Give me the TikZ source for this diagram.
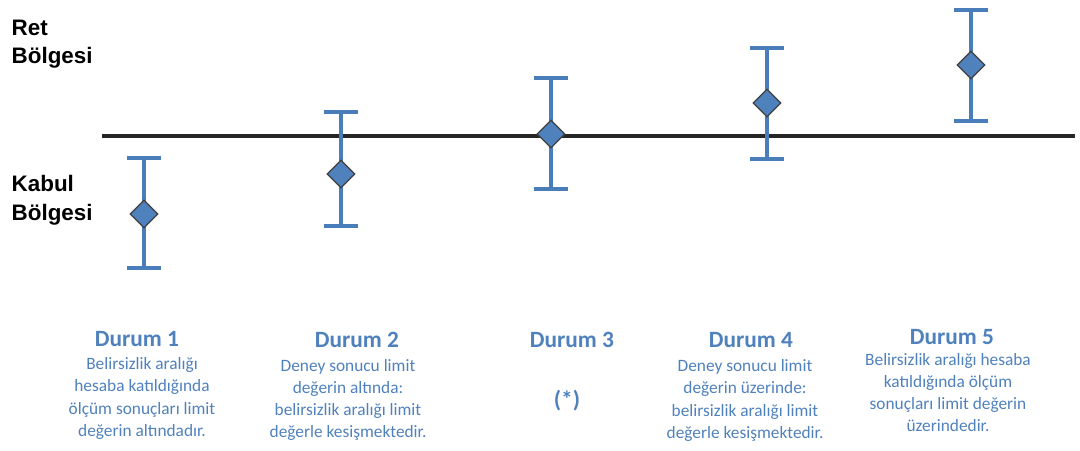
\documentclass[tikz,border=0pt]{standalone}
\usepackage{fontspec}
\setmainfont{Carlito}
\newfontfamily\arialf{Liberation Sans}
\usetikzlibrary{shapes.geometric}
\definecolor{barblue}{RGB}{74,126,187}
\definecolor{dmdblue}{RGB}{79,129,189}
\definecolor{txtblue}{RGB}{79,129,189}
\definecolor{limline}{RGB}{38,38,38}
\tikzset{
  limit/.style={line width=3pt, draw=limline},
  ebar/.style={line width=2.6pt, draw=barblue},
  dmd/.style={diamond, aspect=1, inner sep=0pt, minimum width=21pt, minimum height=21pt,
              fill=dmdblue, draw=black!75, line width=0.9pt},
  region/.style={align=left, anchor=west, font=\arialf\bfseries\fontsize{16.8}{21.5}\selectfont, text=black},
  head/.style={font=\bfseries\fontsize{17.5}{18}\selectfont, text=txtblue, inner sep=0pt},
  body/.style={align=center, font=\fontsize{13}{16.7}\selectfont, text=txtblue, inner sep=0pt}
}
\begin{document}
\begin{tikzpicture}[x=0.75pt,y=-0.75pt]
\useasboundingbox (0,0) rectangle (1080,450);
% limit line
\coordinate (L0) at (102,136);
\coordinate (L1) at (1075,136);
\draw[limit] (L0) -- (L1);
% region labels
\node[region] (ret) at (7,44) {Ret\\Bölgesi};
\node[region] (kabul) at (7,200) {Kabul\\Bölgesi};
% error bars: x, top, center, bottom
\foreach \i/\x/\t/\c/\b in {1/144/158/214/268, 2/341/112/174/226, 3/551/78/134/189, 4/767/48/103/159, 5/971/10/65/121}{
  \coordinate (t\i) at (\x,\t);
  \coordinate (b\i) at (\x,\b);
  \coordinate (tl\i) at (\x-17,\t);
  \coordinate (tr\i) at (\x+17,\t);
  \coordinate (bl\i) at (\x-17,\b);
  \coordinate (br\i) at (\x+17,\b);
  \draw[ebar] (t\i) -- (b\i);
  \draw[ebar] (tl\i) -- (tr\i);
  \draw[ebar] (bl\i) -- (br\i);
  \node[dmd] (d\i) at (\x,\c) {};
}
% captions
\node[head] (h1) at (137,339) {Durum 1};
\node[body] (c1) at (142,398.5) {Belirsizlik aralığı\\hesaba katıldığında\\ölçüm sonuçları limit\\değerin altındadır.};
\node[head] (h2) at (357,340) {Durum 2};
\node[body] (c2) at (348,400) {Deney sonucu limit\\değerin altında:\\belirsizlik aralığı limit\\değerle kesişmektedir.};
\node[head] (h3) at (572,340) {Durum 3};
\node[head] (c3) at (567,401) {(*)};
\node[head] (h4) at (751,340) {Durum 4};
\node[body] (c4) at (745,400.5) {Deney sonucu limit\\değerin üzerinde:\\belirsizlik aralığı limit\\değerle kesişmektedir.};
\node[head] (h5) at (952,337) {Durum 5};
\node[body] (c5) at (948,392.5) {Belirsizlik aralığı hesaba\\katıldığında ölçüm\\sonuçları limit değerin\\üzerindedir.};
\end{tikzpicture}
\end{document}
